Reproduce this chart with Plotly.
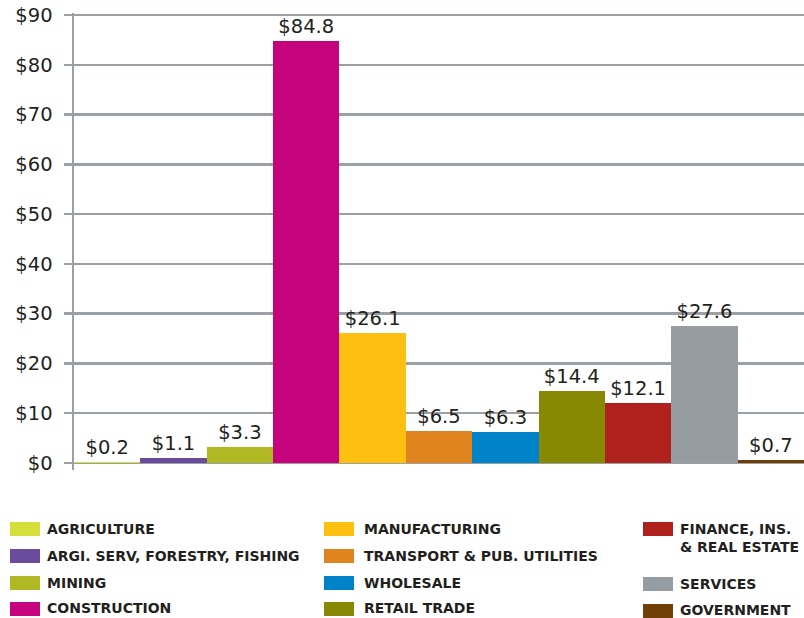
import plotly.graph_objects as go

categories = ["AGRICULTURE", "ARGI. SERV, FORESTRY, FISHING", "MINING", "CONSTRUCTION",
              "MANUFACTURING", "TRANSPORT & PUB. UTILITIES", "WHOLESALE", "RETAIL TRADE",
              "FINANCE, INS.<br>& REAL ESTATE", "SERVICES", "GOVERNMENT"]
values = [0.2, 1.1, 3.3, 84.8, 26.1, 6.5, 6.3, 14.4, 12.1, 27.6, 0.7]
colors = ["#d5df3c", "#6b4c9c", "#b0b824", "#c5037d", "#fdc010", "#e0841f",
          "#0082c8", "#878904", "#ae211c", "#959ca2", "#6f3f07"]
tick_vals = [0, 10, 20, 30, 40, 50, 60, 70, 80, 90]
tick_text = ["$0", "$10", "$20", "$30", "$40", "$50", "$60", "$70", "$80", "$90"]

FONT = "DejaVu Sans"
TXT = "#231f20"
GRID = "#9ba0a4"

fig = go.Figure()
fig.add_trace(go.Bar(
    x=list(range(len(values))), y=values,
    marker=dict(color=colors, line=dict(width=0)),
    text=["$" + f"{v:.1f}" for v in values],
    textposition="outside", cliponaxis=False,
    textfont=dict(family=FONT, size=19.5, color=TXT),
    showlegend=False, hoverinfo="skip",
))

W, H = 804, 618
L, R, T, B = 74, 0, 13, 148
PW, PH = W - L - R, H - T - B

fig.update_layout(
    width=W, height=H,
    margin=dict(l=L, r=R, t=T, b=B),
    paper_bgcolor="white", plot_bgcolor="white",
    bargap=0,
    font=dict(family=FONT, color=TXT),
    xaxis=dict(range=[-0.5, len(values) - 0.5], visible=False, fixedrange=True),
    yaxis=dict(range=[-1.406, 90.4], tickvals=tick_vals, ticktext=tick_text,
               showgrid=True, gridcolor=GRID, gridwidth=2.5,
               zeroline=True, zerolinecolor=GRID, zerolinewidth=2,
               showline=True, linecolor=GRID, linewidth=2.5,
               ticks="outside", ticklen=8, tickwidth=2.5, tickcolor=GRID,
               ticklabelstandoff=7, fixedrange=True,
               tickfont=dict(family=FONT, size=19.5, color=TXT)),
)

# manual legend (3 columns, column-major)
cols = [(10, 45), (324, 362), (643, 678)]
rows_y = [529, 556, 583, 609]
col_items = [[0, 1, 2, 3], [4, 5, 6, 7], [8, 9, 10]]
col3_y = [529, 584, 611]
text_y = [528.5, 555.5, 582.5, 608]
col3_text_y = [528.5, 583.5, 610]
shapes = []
annots = []
for ci, items in enumerate(col_items):
    sx, tx = cols[ci]
    for ri, idx in enumerate(items):
        cy = col3_y[ri] if ci == 2 else rows_y[ri]
        ty = col3_text_y[ri] if ci == 2 else text_y[ri]
        shapes.append(dict(type="rect", xref="paper", yref="paper",
                           x0=(sx - L) / PW, x1=(sx + 30 - L) / PW,
                           y0=(H - B - (cy + 7)) / PH, y1=(H - B - (cy - 7)) / PH,
                           fillcolor=colors[idx], line=dict(width=0), layer="above"))
        multi = "<br>" in categories[idx]
        annots.append(dict(xref="paper", yref="paper",
                           x=(tx - L) / PW,
                           y=(H - B - (ty - 9.5)) / PH if multi else (H - B - ty) / PH,
                           xanchor="left", yanchor="top" if multi else "middle", align="left",
                           text="<b>" + categories[idx] + "</b>", showarrow=False,
                           font=dict(family=FONT, size=14, color=TXT)))
fig.update_layout(shapes=shapes, annotations=annots)

fig.write_html("out.html",
               config={"displayModeBar": False, "staticPlot": True},
               post_script="document.body.style.margin='0';document.body.style.overflow='hidden';")
